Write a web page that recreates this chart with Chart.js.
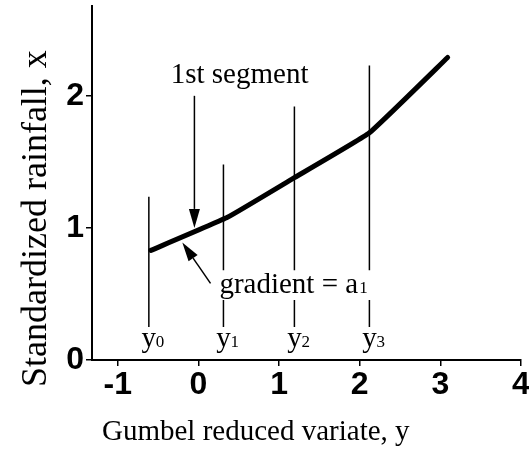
<!DOCTYPE html>
<html>
<head>
<meta charset="utf-8">
<script src="https://cdn.jsdelivr.net/npm/chart.js@4"></script>
<style>
  html, body { margin: 0; padding: 0; background: #fff; }
  #wrap { width: 529px; height: 451px; }
</style>
</head>
<body>
<div id="wrap"><canvas id="grafica" width="529" height="451"></canvas></div>
<script>
// curva: variable reducida de Gumbel (y) vs lluvia estandarizada (x)
const curvaY = [-0.59, 0.36, 1.19, 2.12, 3.09];
const curvaX = [0.83, 1.08, 1.38, 1.72, 2.29];

// limites de segmentos y0..y3
const limites = [-0.615, 0.31, 1.19, 2.12];
const limiteArriba = [1.235, 1.48, 1.92, 2.23];
const limiteAbajo = 0.25;
const limiteNombres = ["0", "1", "2", "3"];

const ticksX = [-1, 0, 1, 2, 3, 4];
const ticksY = [0, 1, 2];

const tituloX = "Gumbel reduced variate, y";
const tituloY = "Standardized rainfall, x";

const SERIF = "'Liberation Serif', 'Times New Roman', serif";
const SANS = "'Liberation Sans', Arial, sans-serif";

// hueco en las lineas para el texto "gradient = a1"
const HUECO_ARRIBA = 0.68;
const HUECO_ABAJO = 0.455;

function lineaLimite(i) {
    const x = limites[i];
    const pts = [{x: x, y: limiteArriba[i]}];
    if (i > 0) {
        pts.push({x: x, y: HUECO_ARRIBA});
        pts.push({x: x, y: null});
        pts.push({x: x, y: HUECO_ABAJO});
    }
    pts.push({x: x, y: limiteAbajo});
    return {
        data: pts,
        borderColor: "#000",
        borderWidth: 1.5,
        pointRadius: 0,
        spanGaps: false
    };
}

function flecha(ctx, x1, y1, x2, y2) {
    const ang = Math.atan2(y2 - y1, x2 - x1);
    const largo = 19, ancho = 5.5;
    const bx = x2 - largo * Math.cos(ang);
    const by = y2 - largo * Math.sin(ang);
    ctx.beginPath();
    ctx.moveTo(x1, y1);
    ctx.lineTo(bx, by);
    ctx.lineWidth = 1.5;
    ctx.stroke();
    ctx.beginPath();
    ctx.moveTo(x2, y2);
    ctx.lineTo(bx + ancho * Math.sin(ang), by - ancho * Math.cos(ang));
    ctx.lineTo(bx - ancho * Math.sin(ang), by + ancho * Math.cos(ang));
    ctx.closePath();
    ctx.fill();
}

const anotaciones = {
    id: "anotaciones",
    afterDatasetsDraw(chart) {
        const ctx = chart.ctx;
        const sx = chart.scales.x;
        const sy = chart.scales.y;
        const px = v => sx.getPixelForValue(v);
        const py = v => sy.getPixelForValue(v);

        ctx.save();
        ctx.fillStyle = "#000";
        ctx.strokeStyle = "#000";
        ctx.textBaseline = "alphabetic";

        // titulos de ejes
        ctx.font = "29px " + SERIF;
        ctx.textAlign = "left";
        ctx.fillText(tituloX, 102, 440);

        ctx.save();
        ctx.translate(46, 387);
        ctx.rotate(-Math.PI / 2);
        ctx.font = "36px " + SERIF;
        ctx.fillText(tituloY, 0, 0);
        ctx.restore();

        // 1st segment
        ctx.font = "29px " + SERIF;
        ctx.textAlign = "left";
        ctx.fillText("1st segment", px(-0.344), py(2.1));
        flecha(ctx, px(-0.05), py(2.0), px(-0.05), py(1.0));

        // gradient = a1
        ctx.font = "29px " + SERIF;
        const t = "gradient = a";
        const gx = px(0.26), gy = py(0.508);
        ctx.fillText(t, gx, gy);
        const w = ctx.measureText(t).width;
        ctx.font = "17px " + SERIF;
        ctx.fillText("1", gx + w + 1, gy);
        flecha(ctx, px(0.15), py(0.58), px(-0.2), py(0.89));

        // y0..y3
        limites.forEach((v, i) => {
            ctx.font = "29px " + SERIF;
            ctx.textAlign = "center";
            const lx = px(v), ly = py(0.1);
            ctx.fillText("y", lx, ly);
            ctx.font = "17px " + SERIF;
            ctx.textAlign = "left";
            ctx.fillText(limiteNombres[i], lx + 7, ly);
        });
        ctx.restore();
    }
};

new Chart(document.getElementById("grafica"), {
    type: "line",
    data: {
        datasets: [
            {
                data: curvaY.map((v, i) => ({x: v, y: curvaX[i]})),
                borderColor: "#000",
                borderWidth: 5,
                pointRadius: 0,
                tension: 0.1,
                borderCapStyle: "round",
                borderJoinStyle: "round"
            },
            ...limites.map((v, i) => lineaLimite(i))
        ]
    },
    options: {
        responsive: false,
        animation: false,
        layout: {padding: {top: 6, right: 8, left: 0, bottom: 0}},
        plugins: {
            legend: {display: false},
            tooltip: {enabled: false}
        },
        scales: {
            x: {
                type: "linear",
                min: -1.32,
                max: 4,
                afterBuildTicks: s => { s.ticks = ticksX.map(v => ({value: v})); },
                afterFit: s => { s.height = 91; s.paddingLeft = 0; s.paddingRight = 0; },
                border: {color: "#000", width: 2},
                grid: {drawOnChartArea: false, color: "#000", lineWidth: 1.5, tickLength: 6},
                ticks: {
                    color: "#000",
                    font: {family: SANS, size: 32, weight: "bold"},
                    padding: 0,
                    maxRotation: 0,
                    autoSkip: false
                }
            },
            y: {
                min: 0,
                max: 2.68,
                afterBuildTicks: s => { s.ticks = ticksY.map(v => ({value: v})); },
                afterFit: s => { s.width = 92; s.paddingTop = 0; s.paddingBottom = 0; },
                border: {color: "#000", width: 2},
                grid: {drawOnChartArea: false, color: "#000", lineWidth: 1.5, tickLength: 6},
                ticks: {
                    color: "#000",
                    font: {family: SANS, size: 32, weight: "bold"},
                    padding: 2
                }
            }
        }
    },
    plugins: [anotaciones]
});
</script>
</body>
</html>
